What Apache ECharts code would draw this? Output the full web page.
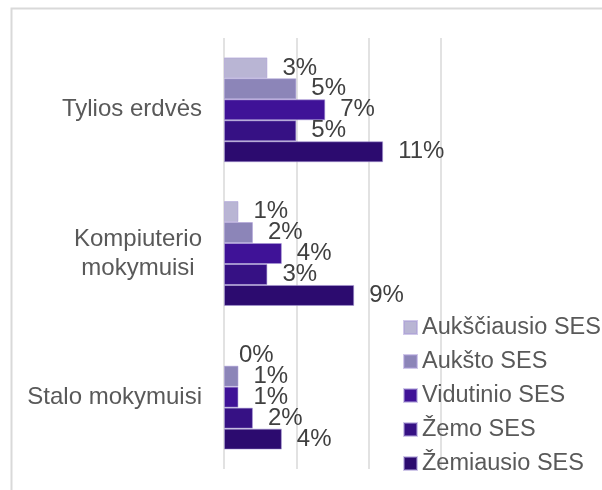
<!DOCTYPE html>
<html>
<head>
<meta charset="utf-8">
<script src="https://cdn.jsdelivr.net/npm/echarts@6/dist/echarts.min.js"></script>
<style>
  html, body { margin: 0; padding: 0; background: #fff; }
  #chart { width: 602px; height: 490px; }
</style>
</head>
<body>
<div id="chart"></div>
<script>
// categories top to bottom
const categories = ['Tylios erdvės', 'Kompiuterio\nmokymuisi', 'Stalo mokymuisi']

// one array per SES group, in %
const seriesNames = ['Aukščiausio SES', 'Aukšto SES', 'Vidutinio SES', 'Žemo SES', 'Žemiausio SES']
const aukSciausio = [3, 1, 0]
const aukSto = [5, 2, 1]
const vidutinio = [7, 4, 1]
const zemo = [5, 3, 2]
const zemiausio = [11, 9, 4]

const colors = ['#b9b5d4', '#8c85b8', '#3f1297', '#361184', '#2c0b6f']
const values = [aukSciausio, aukSto, vidutinio, zemo, zemiausio]

const chart = echarts.init(document.getElementById('chart'))

chart.setOption({
  animation: false,
  backgroundColor: '#fff',
  textStyle: { fontFamily: 'Liberation Sans, Arial, sans-serif' },
  graphic: [{
    type: 'rect',
    shape: { x: 11.5, y: 8.5, width: 700, height: 600 },
    style: { fill: 'none', stroke: '#d9d9d9', lineWidth: 2 },
    silent: true
  }],
  grid: { left: 224, right: 161, top: 38, bottom: 21 },
  xAxis: {
    type: 'value',
    min: 0,
    max: 15,
    interval: 5,
    axisLabel: { show: false },
    axisLine: { show: false },
    axisTick: { show: false },
    splitLine: { lineStyle: { color: '#d9d9d9', width: 1.5 } }
  },
  yAxis: {
    type: 'category',
    inverse: true,
    data: categories,
    axisLine: { show: false },
    axisTick: { show: false },
    axisLabel: {
      margin: 22,
      fontSize: 24,
      color: '#595959',
      formatter: v => v.split('\n').map(s => '{c|' + s + '}').join('\n'),
      rich: { c: { align: 'center', fontSize: 24, color: '#595959', lineHeight: 29 } }
    }
  },
  legend: {
    orient: 'vertical',
    left: 398,
    top: 310,
    icon: 'rect',
    itemWidth: 13,
    itemHeight: 13,
    itemGap: 9,
    textStyle: { fontSize: 23.5, color: '#595959', lineHeight: 25 },
    data: seriesNames
  },
  series: seriesNames.map((name, i) => ({
    name,
    type: 'bar',
    data: values[i].map(v => v === 0 ? { value: v, itemStyle: { borderWidth: 0 } } : v),
    barGap: '0%',
    barCategoryGap: '27%',
    itemStyle: { color: colors[i], borderColor: 'rgba(170,155,215,0.55)', borderWidth: 1 },
    label: {
      show: true,
      position: 'right',
      distance: 15,
      fontSize: 24,
      color: '#404040',
      formatter: p => p.value + '%'
    }
  }))
})
</script>
</body>
</html>
